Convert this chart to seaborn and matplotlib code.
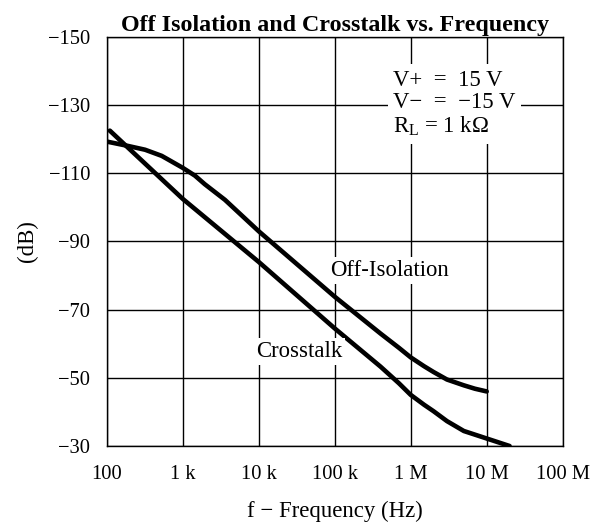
import matplotlib
matplotlib.use("Agg")
import matplotlib.pyplot as plt
import seaborn as sns
import pandas as pd

# values
crosstalk_freq = [110, 1e3, 1e4, 1e5, 4e5, 7e5, 1e6, 1.5e6, 2e6, 3e6, 5e6, 1e7, 2e7]
crosstalk_db = [-122.5, -102.5, -84, -64.5, -53.3, -48.4, -45, -42.1, -40.2, -37.3, -34.4, -32.2, -30]

offiso_freq = [100, 192, 320, 530, 1e3, 1.45e3, 1.95e3, 3.6e3, 1e4, 1e5, 4e5, 7e5, 1e6,
               1.5e6, 2e6, 3e6, 5e6, 7e6, 1e7]
offiso_db = [-119.3, -118, -116.9, -115.1, -111.6, -109.3, -106.8, -102.2, -93, -73.8, -63,
             -58.8, -56, -53.4, -51.7, -49.5, -47.8, -46.8, -46]

x_ticks = [1e2, 1e3, 1e4, 1e5, 1e6, 1e7, 1e8]
x_tick_labels = ['100', '1 k', '10 k', '100 k', '1 M', '10 M', '100 M']
y_ticks = [-150, -130, -110, -90, -70, -50, -30]

sns.set_style('white')
plt.rcParams['font.family'] = ['Liberation Serif', 'DejaVu Serif']
plt.rcParams['mathtext.fontset'] = 'custom'
plt.rcParams['mathtext.rm'] = 'Liberation Serif'
plt.rcParams['mathtext.it'] = 'Liberation Serif:italic'
plt.rcParams['text.color'] = 'black'
plt.rcParams['axes.labelcolor'] = 'black'

df_ct = pd.DataFrame({'f': crosstalk_freq, 'dB': crosstalk_db})
df_oi = pd.DataFrame({'f': offiso_freq, 'dB': offiso_db})

fig, ax = plt.subplots(figsize=(5.94, 5.27), dpi=100)
fig.subplots_adjust(left=0.1796, right=0.9473, top=0.930, bottom=0.1537)

sns.lineplot(data=df_ct, x='f', y='dB', color='black', linewidth=3.3, sort=False, ax=ax)
sns.lineplot(data=df_oi, x='f', y='dB', color='black', linewidth=3.3, sort=False, ax=ax)

ax.set_xscale('log')
ax.set_xlim(1e2, 1e8)
ax.set_ylim(-30, -150)
ax.set_xticks(x_ticks)
ax.set_xticklabels(x_tick_labels)
ax.minorticks_off()
ax.set_yticks(y_ticks)
ax.grid(True, color='black', linewidth=1.0)
ax.tick_params(length=0, labelsize=14.8, colors='black')
ax.tick_params(axis='y', pad=12)
ax.tick_params(axis='x', pad=14)
for s in ax.spines.values():
    s.set_color('black')
    s.set_linewidth(1.0)

ax.set_title('Off Isolation and Crosstalk vs. Frequency', fontsize=17.3, fontweight='bold', pad=4)
ax.set_xlabel('f \u2212 Frequency (Hz)', fontsize=16.4, labelpad=12)
ax.set_ylabel('(dB)', fontsize=16.4, labelpad=7)

box = dict(facecolor='white', edgecolor='none', boxstyle='square,pad=0.12')
ax.text(8.7e4, -81.5, 'Off-Isolation', fontsize=16.4, va='center', ha='left', bbox=box, zorder=3)
ax.text(9.2e3, -57.7, 'Crosstalk', fontsize=16.4, va='center', ha='left', bbox=box, zorder=3)
ax.text(5.9e5, -130.3, 'V+  =  15 V\nV\u2212  =  \u221215 V\n$\\mathrm{R_L}$ = 1 k\u03a9',
        fontsize=16.4, va='center', ha='left', linespacing=1.1,
        bbox=dict(facecolor='white', edgecolor='none', boxstyle='square,pad=0.25'), zorder=3)

plt.savefig('out.png', dpi=100)
